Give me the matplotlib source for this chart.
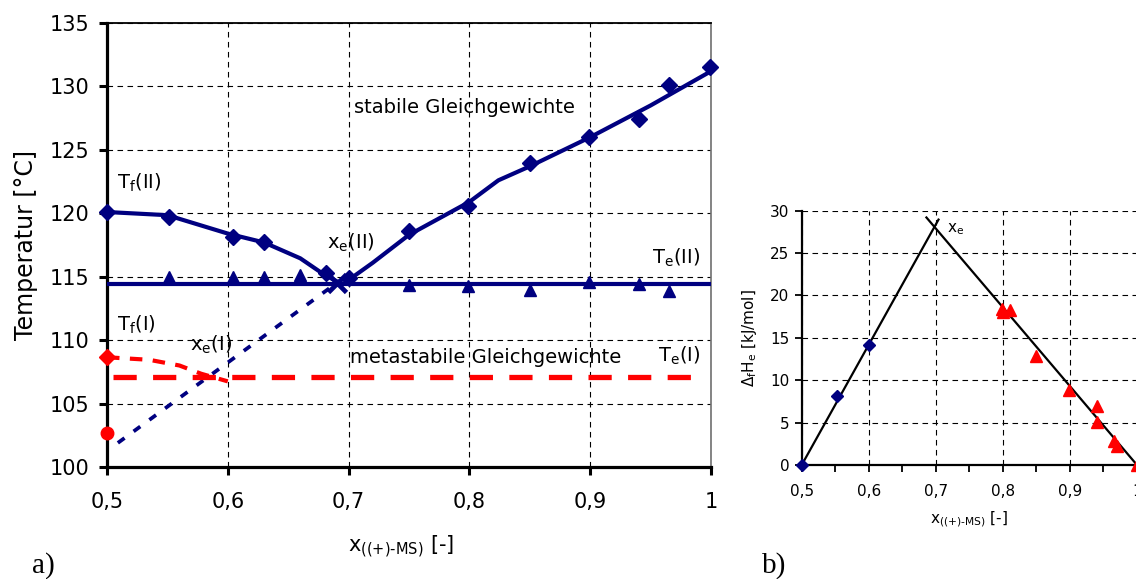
import numpy as np
import matplotlib
matplotlib.use("Agg")
import matplotlib.pyplot as plt
from matplotlib.ticker import FuncFormatter, MultipleLocator

plt.rcParams['font.family'] = ['DejaVu Sans']
plt.rcParams['mathtext.default'] = 'regular'

# ---------------- data: panel a) ----------------
# stable liquidus T_f(II) measurements (diamonds)
liq_x = [0.50, 0.551, 0.604, 0.630, 0.681, 0.700, 0.750, 0.799, 0.850, 0.899, 0.940, 0.965, 0.999]
liq_T = [120.1, 119.7, 118.15, 117.7, 115.3, 114.9, 118.6, 120.6, 124.0, 126.0, 127.4, 130.1, 131.55]
# fitted liquidus curve, left and right branch
fitL_x = [0.50, 0.55, 0.60, 0.63, 0.66, 0.68, 0.695]
fitL_T = [120.1, 119.85, 118.4, 117.7, 116.45, 115.15, 114.4]
fitR_x = [0.695, 0.72, 0.75, 0.80, 0.824, 0.85, 0.90, 0.95, 1.00]
fitR_T = [114.4, 116.1, 118.3, 120.9, 122.6, 123.7, 126.0, 128.5, 131.2]
# eutectic temperature T_e(II) measurements (triangles)
eut_x = [0.551, 0.604, 0.630, 0.660, 0.750, 0.799, 0.850, 0.899, 0.940, 0.965]
eut_T = [115.0, 115.0, 114.97, 115.1, 114.35, 114.3, 113.95, 114.56, 114.4, 113.87]
TeII = 114.45
TeII_range = [0.50, 1.00]
# eutectic point x_e(II)
xeII_x, xeII_T = 0.690, 114.5
# metastable extrapolation (blue dashed)
meta_x = [0.509, 0.690]
meta_T = [101.9, 114.5]
# metastable form I
TfI_x, TfI_T = 0.50, 108.65
circ_x, circ_T = 0.50, 102.7
metaI_x = [0.50, 0.535, 0.56, 0.578, 0.60]
metaI_T = [108.65, 108.45, 108.0, 107.35, 106.75]
TeI = 107.12
TeI_range = [0.505, 0.99]

# ---------------- data: panel b) ----------------
hb_x = [0.50, 0.552, 0.600]
hb_H = [0.0, 8.15, 14.1]
hr_x = [0.798, 0.800, 0.811, 0.850, 0.899, 0.940, 0.940, 0.966, 0.970, 1.000]
hr_H = [18.4, 18.0, 18.3, 12.9, 8.8, 6.95, 5.1, 2.85, 2.2, 0.0]
lineL_x = [0.50, 0.704]
lineL_H = [0.0, 28.95]
lineR_x = [0.686, 1.00]
lineR_H = [29.2, 0.0]

navy = '#000080'
red = '#FF0000'

def comma(v, p):
    s = ('%g' % round(v, 6)).replace('.', ',')
    return s

fig = plt.figure(figsize=(11.36, 5.79), dpi=100)

# ================= panel a =================
ax = fig.add_axes([107/1136, 1-467/579, 604/1136, 444/579])
ax.set_xlim(0.5, 1.0)
ax.set_ylim(100, 135)
ax.xaxis.set_major_locator(MultipleLocator(0.1))
ax.yaxis.set_major_locator(MultipleLocator(5))
ax.xaxis.set_major_formatter(FuncFormatter(comma))
ax.grid(True, color='black', linestyle=(0, (5, 4)), linewidth=0.8)
ax.set_axisbelow(True)
for s in ['left', 'bottom']:
    ax.spines[s].set_linewidth(2.3)
ax.spines['top'].set_linewidth(1.3)
ax.spines['right'].set_linewidth(1.2)
ax.spines['right'].set_color('#707070')
ax.tick_params(axis='both', which='major', direction='out', length=6, width=2.2,
               labelsize=15, pad=8)
ax.tick_params(axis='x', pad=12)
ax.tick_params(axis='y', pad=7)

ax.plot(fitL_x, fitL_T, color=navy, lw=3, solid_capstyle='round', zorder=3)
ax.plot(fitR_x, fitR_T, color=navy, lw=3, solid_capstyle='round', zorder=3)
ax.plot(TeII_range, [TeII, TeII], color=navy, lw=3, zorder=3)
ax.plot(meta_x, meta_T, color=navy, lw=2.7, linestyle=(0, (2.2, 3.0)), zorder=3)
ax.plot(liq_x, liq_T, linestyle='none', marker='D', ms=8, color=navy, zorder=4, clip_on=False)
ax.plot(eut_x, eut_T, linestyle='none', marker='^', ms=8.5, color=navy, zorder=4)
ax.plot([xeII_x], [xeII_T], linestyle='none', marker='x', ms=13, mew=3.4, color=navy, zorder=5)

ax.plot(metaI_x, metaI_T, color=red, lw=3, linestyle=(0, (3, 2.5)), zorder=3)
ax.plot(TeI_range, [TeI, TeI], color=red, lw=3.8, linestyle=(0, (4.4, 3.1)), zorder=3)
ax.plot([TfI_x], [TfI_T], linestyle='none', marker='D', ms=8, color=red, zorder=4, clip_on=False)
ax.plot([circ_x], [circ_T], linestyle='none', marker='o', ms=9, color=red, zorder=4, clip_on=False)

tk = dict(fontsize=14, color='black', zorder=6)
ax.text(0.508, 122.4, r'$T_f$(II)', ha='left', va='center', **tk)
ax.text(0.7045, 128.3, 'stabile Gleichgewichte', ha='left', va='center', **tk)
ax.text(0.682, 117.7, r'$x_e$(II)', ha='left', va='center', **tk)
ax.text(0.991, 116.5, r'$T_e$(II)', ha='right', va='center', **tk)
ax.text(0.508, 111.2, r'$T_f$(I)', ha='left', va='center', **tk)
ax.text(0.569, 109.6, r'$x_e$(I)', ha='left', va='center', **tk)
ax.text(0.926, 108.6, 'metastabile Gleichgewichte', ha='right', va='center', **tk)
ax.text(0.991, 108.8, r'$T_e$(I)', ha='right', va='center', **tk)

ax.set_ylabel('Temperatur [°C]', fontsize=17, labelpad=8)
ax.set_xlabel(r'x$_{((+)\text{-}MS)}$ [-]', fontsize=15)
ax.xaxis.set_label_coords(0.487, -0.180, transform=ax.transAxes)
ax.xaxis.label.set_va('center')

# ================= panel b =================
bx = fig.add_axes([801.7/1136, 1-465/579, 335.3/1136, 254.3/579])
bx.set_xlim(0.5, 1.0)
bx.set_ylim(0, 30)
bx.xaxis.set_major_locator(MultipleLocator(0.1))
bx.xaxis.set_minor_locator(MultipleLocator(0.05))
bx.yaxis.set_major_locator(MultipleLocator(5))
bx.xaxis.set_major_formatter(FuncFormatter(comma))
bx.grid(True, which='major', color='black', linestyle=(0, (5, 4)), linewidth=0.8)
bx.set_axisbelow(True)
bx.spines['top'].set_visible(False)
bx.spines['right'].set_visible(False)
for s in ['left', 'bottom']:
    bx.spines[s].set_linewidth(1.6)
bx.tick_params(axis='both', which='major', direction='out', length=5, width=1.3,
               labelsize=11, pad=4)
bx.tick_params(axis='x', which='major', pad=8.5)
bx.tick_params(axis='x', which='minor', direction='out', length=5, width=1.3)

bx.plot(lineL_x, lineL_H, color='black', lw=1.6, zorder=3)
bx.plot(lineR_x, lineR_H, color='black', lw=1.6, zorder=3)
bx.plot(hb_x, hb_H, linestyle='none', marker='D', ms=6, color=navy, zorder=4, clip_on=False)
bx.plot(hr_x, hr_H, linestyle='none', marker='^', ms=9, color=red, zorder=4, clip_on=False)
bx.text(0.717, 27.8, r'$x_e$', ha='left', va='center', fontsize=11)
bx.set_ylabel(r'$\Delta_f H_e$ [kJ/mol]', fontsize=11, labelpad=8)
bx.set_xlabel(r'x$_{((+)\text{-}MS)}$ [-]', fontsize=11, labelpad=8)

fig.text(32/1136, 1-566/579, 'a)', fontsize=21, family='Liberation Serif', ha='left', va='center')
fig.text(762/1136, 1-566/579, 'b)', fontsize=21, family='Liberation Serif', ha='left', va='center')

fig.savefig('out.png', dpi=100)
